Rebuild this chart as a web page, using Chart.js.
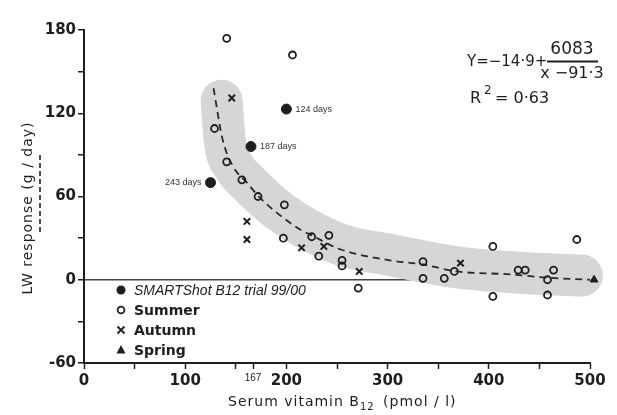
<!DOCTYPE html>
<html>
<head>
<meta charset="utf-8">
<script src="https://cdn.jsdelivr.net/npm/chart.js@4.4.1/dist/chart.umd.min.js"></script>
<style>
  html, body { margin: 0; padding: 0; background: #fff; }
</style>
</head>
<body>
<canvas id="chart" width="617" height="415"></canvas>
<script>
// values
const smartX = [200, 165, 125];
const smartY = [123, 96, 70];
const smartLabels = ["124 days", "187 days", "243 days"];

const summerX = [141, 206, 129, 141, 156, 172, 198, 197, 225, 242, 232, 255, 255, 271, 335, 335, 356, 366, 404, 404, 429, 436, 458, 458, 464, 487];
const summerY = [174, 162, 109, 85, 72, 60, 54, 30, 31, 32, 17, 14, 10, -6, 13, 1, 1, 6, 24, -12, 7, 7, 0, -11, 7, 29];

const autumnX = [146, 161, 161, 215, 237, 272, 372];
const autumnY = [131, 42, 29, 23, 24, 6, 12];

const springX = [504];
const springY = [0];

// fitted curve
const curveX = [128, 137, 147, 161, 174, 191, 214, 225, 253, 302, 335, 368, 418, 460, 500];
const curveY = [138, 101, 82, 70, 59, 48, 36, 32, 22, 14, 11, 6, 4, 1.4, 0];

// grey highlight band around the curve
const bandX = [136, 139, 148, 162, 176, 194, 217, 255, 302, 368, 430, 492];
const bandY = [129, 101, 82, 70, 60, 49, 38, 25, 18, 9, 5, 3];

const xTicks = [0, 50, 100, 150, 167, 200, 250, 300, 350, 400, 450, 500];
const xTickLabels = ["0", "", "100", "", "167", "200", "", "300", "", "400", "", "500"];
const yTicks = [-60, -30, 0, 30, 60, 90, 120, 150, 180];
const yTickLabels = ["-60", "", "0", "", "60", "", "120", "", "180"];

const seriesNames = ["SMARTShot B12 trial 99/00", "Summer", "Autumn", "Spring"];

const INK = "#1e1e1e";
const toPts = (xs, ys) => xs.map((x, i) => ({ x: x, y: ys[i] }));

function drawSymbol(ctx, style, x, y) {
  ctx.save();
  ctx.strokeStyle = INK;
  ctx.fillStyle = INK;
  ctx.lineWidth = 1.8;
  ctx.beginPath();
  if (style === "dot") {
    ctx.arc(x, y, 4.5, 0, Math.PI * 2);
    ctx.fill();
  } else if (style === "ring") {
    ctx.arc(x, y, 3.4, 0, Math.PI * 2);
    ctx.stroke();
  } else if (style === "cross") {
    ctx.moveTo(x - 3.5, y - 3.5); ctx.lineTo(x + 3.5, y + 3.5);
    ctx.moveTo(x + 3.5, y - 3.5); ctx.lineTo(x - 3.5, y + 3.5);
    ctx.stroke();
  } else {
    ctx.moveTo(x, y - 5); ctx.lineTo(x + 4.5, y + 3.5); ctx.lineTo(x - 4.5, y + 3.5);
    ctx.closePath();
    ctx.fill();
  }
  ctx.restore();
}

const annotations = {
  id: "annotations",
  afterDatasetsDraw(chart) {
    const ctx = chart.ctx;
    const xs = chart.scales.x, ys = chart.scales.y;
    ctx.save();

    // day labels beside the SMARTShot points
    ctx.font = "9px 'Liberation Sans'";
    ctx.fillStyle = "#333";
    ctx.textBaseline = "middle";
    smartX.forEach((v, i) => {
      const px = xs.getPixelForValue(v), py = ys.getPixelForValue(smartY[i]);
      if (i === 2) {
        ctx.textAlign = "right";
        ctx.fillText(smartLabels[i], px - 9, py);
      } else {
        ctx.textAlign = "left";
        ctx.fillText(smartLabels[i], px + 9, py);
      }
    });

    // equation
    ctx.fillStyle = INK;
    ctx.font = "15px 'DejaVu Sans'";
    ctx.textAlign = "left";
    ctx.fillText("Y=\u221214\u00b79+", 467, 62);
    ctx.textAlign = "center";
    ctx.font = "17px 'DejaVu Sans'";
    ctx.fillText("6083", 572, 50);
    ctx.font = "16px 'DejaVu Sans'";
    ctx.fillText("x \u221291\u00b73", 572, 74);
    ctx.lineWidth = 1.8;
    ctx.strokeStyle = INK;
    ctx.beginPath();
    ctx.moveTo(547, 61.5); ctx.lineTo(598, 61.5);
    ctx.stroke();
    ctx.textAlign = "left";
    ctx.fillText("R", 470, 99);
    ctx.font = "12px 'DejaVu Sans'";
    ctx.fillText("2", 484, 91);
    ctx.font = "16px 'DejaVu Sans'";
    ctx.fillText("= 0\u00b763", 495, 99);

    // legend
    const rows = [290, 310, 330, 350];
    const styles = ["dot", "ring", "cross", "tri"];
    rows.forEach((ry, i) => {
      drawSymbol(ctx, styles[i], 121, ry);
      ctx.fillStyle = INK;
      ctx.textAlign = "left";
      ctx.font = i === 0 ? "italic 14px 'Liberation Sans'" : "bold 14px 'DejaVu Sans'";
      ctx.fillText(seriesNames[i], 134, ry + 1);
    });

    // axis titles
    ctx.letterSpacing = "1px";
    ctx.font = "14px 'DejaVu Sans'";
    ctx.fillStyle = INK;
    ctx.textAlign = "left";
    let tx = 228;
    const ty = 402;
    const part1 = "Serum vitamin B";
    ctx.fillText(part1, tx, ty);
    tx += ctx.measureText(part1).width;
    ctx.font = "10px 'DejaVu Sans'";
    ctx.fillText("12", tx, ty + 5);
    tx += ctx.measureText("12").width + 3;
    ctx.font = "14px 'DejaVu Sans'";
    ctx.fillText(" (pmol / l)", tx, ty);

    ctx.translate(28, 208);
    ctx.rotate(-Math.PI / 2);
    ctx.textAlign = "center";
    ctx.fillText("LW response (g / day)", 0, 0);
    ctx.restore();

    // dashed mark beside the y title
    ctx.save();
    ctx.strokeStyle = INK;
    ctx.lineWidth = 1.6;
    ctx.setLineDash([5, 3]);
    ctx.beginPath();
    ctx.moveTo(40, 155); ctx.lineTo(40, 233);
    ctx.stroke();
    ctx.restore();
  }
};

new Chart(document.getElementById("chart"), {
  type: "scatter",
  data: {
    datasets: [
      {
        label: seriesNames[0],
        data: toPts(smartX, smartY),
        pointStyle: "circle",
        pointRadius: 5,
        backgroundColor: INK,
        borderColor: INK,
        borderWidth: 1,
        order: 1,
      },
      {
        label: seriesNames[1],
        data: toPts(summerX, summerY),
        pointStyle: "circle",
        pointRadius: 3.5,
        backgroundColor: "rgba(0,0,0,0)",
        borderColor: INK,
        borderWidth: 1.8,
        order: 1,
      },
      {
        label: seriesNames[2],
        data: toPts(autumnX, autumnY),
        pointStyle: "crossRot",
        pointRadius: 4.5,
        borderColor: INK,
        borderWidth: 2,
        order: 1,
      },
      {
        label: seriesNames[3],
        data: toPts(springX, springY),
        pointStyle: "triangle",
        pointRadius: 4.5,
        backgroundColor: INK,
        borderColor: INK,
        borderWidth: 1,
        clip: false,
        order: 1,
      },
      {
        label: "Fitted curve",
        data: toPts(curveX, curveY),
        showLine: true,
        borderColor: "#2a2a2a",
        borderWidth: 1.8,
        borderDash: [7, 5],
        pointRadius: 0,
        cubicInterpolationMode: "monotone",
        order: 2,
      },
      {
        label: "Band",
        data: toPts(bandX, bandY),
        showLine: true,
        borderColor: "#d6d6d6",
        borderWidth: 42,
        borderCapStyle: "round",
        borderJoinStyle: "round",
        pointRadius: 0,
        cubicInterpolationMode: "monotone",
        clip: false,
        order: 3,
      },
    ],
  },
  options: {
    responsive: false,
    animation: false,
    layout: { padding: { top: 30, right: 27, left: 0, bottom: 0 } },
    plugins: {
      legend: { display: false },
      tooltip: { enabled: false },
    },
    scales: {
      x: {
        type: "linear",
        min: 0,
        max: 500,
        afterBuildTicks: (s) => { s.ticks = xTicks.map((v) => ({ value: v })); },
        afterFit: (s) => { s.height = 52; },
        border: { color: INK, width: 2 },
        grid: { drawOnChartArea: false, tickLength: 6, tickColor: INK, tickWidth: 1.5 },
        ticks: {
          autoSkip: false,
          maxRotation: 0,
          padding: 3,
          color: INK,
          font: (c) => (c.tick && c.tick.value === 167)
            ? { family: "'Liberation Sans'", size: 10 }
            : { family: "'DejaVu Sans'", size: 15, weight: "bold" },
          callback: (v, i) => xTickLabels[i],
        },
      },
      y: {
        type: "linear",
        min: -60,
        max: 180,
        afterBuildTicks: (s) => { s.ticks = yTicks.map((v) => ({ value: v })); },
        afterFit: (s) => { s.width = 84; },
        border: { color: INK, width: 2 },
        grid: {
          color: (c) => (c.tick && c.tick.value === 0) ? "#444" : "rgba(0,0,0,0)",
          lineWidth: 1.5,
          tickLength: 6,
          tickColor: INK,
          tickWidth: 1.5,
        },
        ticks: {
          padding: 2,
          color: INK,
          font: { family: "'DejaVu Sans'", size: 15, weight: "bold" },
          callback: (v, i) => yTickLabels[i],
        },
      },
    },
  },
  plugins: [annotations],
});
</script>
</body>
</html>
